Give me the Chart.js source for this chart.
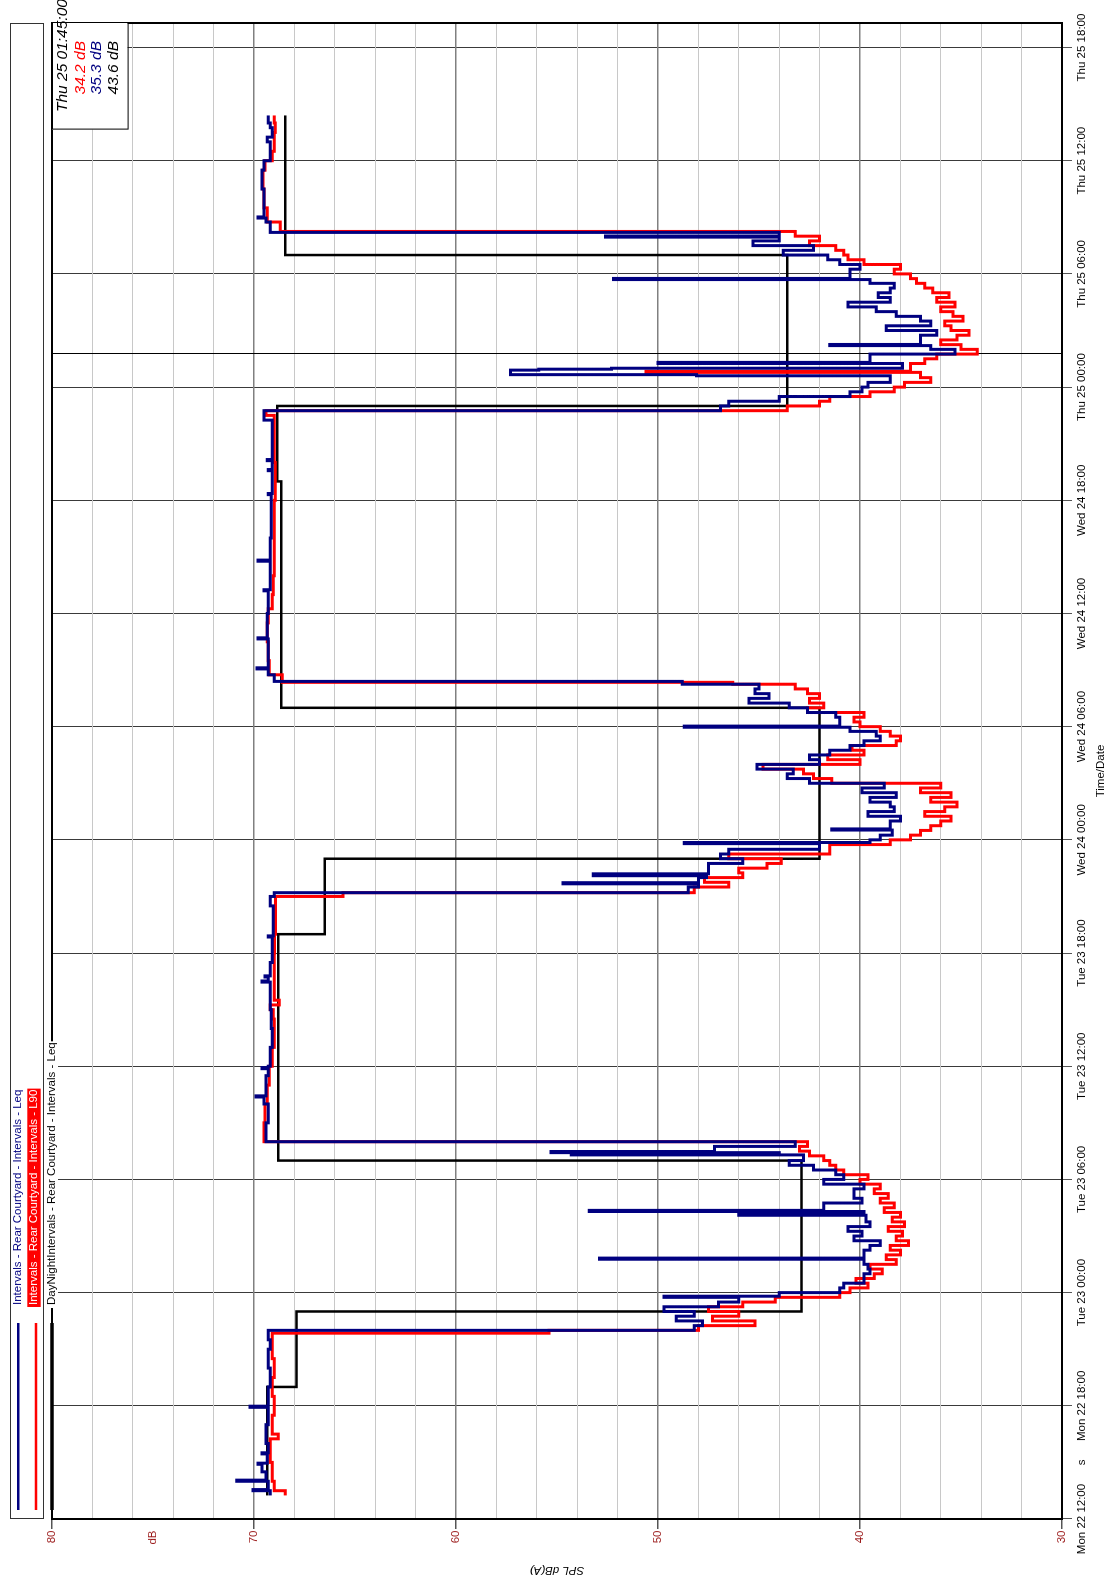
<!DOCTYPE html>
<html>
<head>
<meta charset="utf-8">
<title>Rear Courtyard - SPL</title>
<script src="https://cdn.jsdelivr.net/npm/chart.js@4.4.1/dist/chart.umd.min.js"></script>
<style>
  html, body { margin: 0; padding: 0; background: #fff; overflow: hidden; }
  /* the chart is drawn landscape and turned a quarter turn to the left */
  #wrap { position: absolute; left: 0; top: 0; width: 1576px; height: 1114px;
          transform-origin: 0 0; transform: translate(0px, 1576px) rotate(-90deg); }
  #myChart { display: block; }
</style>
</head>
<body>
<div id="wrap"><canvas id="myChart" width="1576" height="1114"></canvas></div>
<script>
  // hours counted from Mon 22 12:00
  const timeTickHours = [0, 6, 12, 18, 24, 30, 36, 42, 48, 54, 60, 66, 72, 78];
  const timeTickLabels = ['Mon 22 12:00', 'Mon 22 18:00', 'Tue 23 00:00', 'Tue 23 06:00', 'Tue 23 12:00',
    'Tue 23 18:00', 'Wed 24 00:00', 'Wed 24 06:00', 'Wed 24 12:00', 'Wed 24 18:00',
    'Thu 25 00:00', 'Thu 25 06:00', 'Thu 25 12:00', 'Thu 25 18:00'];
  const timeUnitHour = 3;
  const timeUnitLabel = 's';
  const dbLabelValues = [80, 70, 60, 50, 40, 30];
  const dbUnitValue = 75;
  const dbUnitLabel = 'dB';

  const cursorHour = 61.75;
  const cursorTitle = 'Thu 25 01:45:00';
  const cursorL90 = '34.2 dB';
  const cursorLeq = '35.3 dB';
  const cursorDayNight = '43.6 dB';

  const legendNames = [
    'Intervals - Rear Courtyard - Intervals - Leq',
    'Intervals - Rear Courtyard - Intervals - L90',
    'DayNightIntervals - Rear Courtyard - Intervals - Leq'
  ];

  // Leq (navy)
  const leqHours = [
    1.25, 1.5, 1.56, 2.0, 2.06, 2.5, 2.9, 2.96, 3.45, 3.51, 4.0, 5.0, 5.92, 5.98, 7.0, 8.0, 9.0, 9.5,
    10.0, 10.25, 10.5, 10.75, 11.0, 11.25, 11.5, 11.75, 11.81, 12.0, 12.25, 12.5, 12.75, 13.0, 13.25, 13.5,
    13.77, 13.83, 14.25, 14.5, 14.75, 15.0, 15.25, 15.5, 15.75, 16.1, 16.16, 16.3, 16.36, 16.75, 17.0, 17.25,
    17.5, 17.75, 18.0, 18.25, 18.5, 18.75, 19.0, 19.3, 19.36, 19.42, 19.48, 19.75,
    20.0, 21.0, 22.0, 22.37, 22.43, 23.5, 23.87, 23.93, 24.0, 25.0, 26.0, 27.0, 28.46, 28.52, 28.73, 28.79,
    29.5, 30.85, 30.91, 32.5, 33.0,
    33.2, 33.5, 33.67, 33.73, 34.0, 34.1, 34.2, 34.75, 35.0, 35.25, 35.5, 35.8, 35.86, 36.0, 36.25, 36.52,
    36.58, 37.0, 37.25, 37.5, 37.75, 38.0, 38.25, 38.5, 38.75, 39.0, 39.25, 39.5, 39.75, 40.0, 40.25, 40.5,
    40.75, 41.0, 41.25, 41.5, 41.75, 41.97, 42.03, 42.5, 42.75, 43.0, 43.25, 43.5, 43.75, 44.0, 44.25,
    44.4, 44.75, 45.06, 45.12, 46.65, 46.71, 48.0, 49.2, 49.26, 50.77, 50.83, 52.0, 54.3, 54.36, 55.57, 55.63,
    56.1, 56.16, 58.25,
    58.75, 59.0, 59.25, 59.5, 59.75, 60.0, 60.25, 60.6, 60.66, 60.9, 60.95, 61.0, 61.25, 61.31, 61.75, 62.0,
    62.2, 62.26, 62.75, 63.0, 63.25, 63.5, 63.75, 64.0, 64.25, 64.5, 64.75, 65.0, 65.25, 65.5, 65.7, 65.76,
    66.25, 66.5, 66.75, 67.0, 67.25, 67.5, 67.75, 67.95, 68.01,
    68.2, 68.75, 68.96, 69.02, 70.5, 71.5, 72.0, 73.0, 73.25, 73.75, 74.0, 74.4
  ];
  const leqDb = [
    69.2, 70.05, 69.3, 70.85, 69.4, 69.6, 69.8, 69.35, 69.6, 69.3, 69.4, 69.3, 70.2, 69.3, 69.2, 69.3, 69.2, 69.3,
    48.2, 47.8, 49.1, 48.2, 49.7, 47.0, 46.0, 49.7, 44.0, 41.0, 40.8, 39.8, 39.8, 39.5, 39.6, 39.8,
    52.9, 39.8, 39.5, 39.0, 40.3, 39.9, 40.6, 39.5, 39.7, 46.0, 39.8, 53.4, 41.8, 39.9, 40.3, 40.3,
    39.8, 41.8, 40.8, 41.2, 42.3, 43.5, 42.8, 54.3, 44.0, 55.3, 47.2, 43.2,
    69.4, 69.3, 69.5, 69.9, 69.4, 69.3, 69.6, 69.3, 69.2, 69.1, 69.15, 69.2, 69.6, 69.3, 69.45, 69.2,
    69.1, 69.3, 69.05, 69.2, 69.0,
    48.5, 48.0, 54.7, 48.0, 47.6, 53.2, 47.5, 45.8, 46.9, 46.5, 42.0, 48.7, 39.5, 39.0, 38.4, 41.4,
    38.5, 38.0, 39.6, 38.3, 38.5, 39.5, 38.2, 39.9, 38.8, 42.5, 43.6, 43.3, 45.1, 42.0, 42.5, 41.5,
    40.5, 39.8, 39.0, 39.2, 40.5, 48.7, 41.0, 41.2, 42.6, 43.5, 45.5, 44.5, 45.2, 45.0, 48.8,
    69.0, 69.3, 69.85, 69.3, 69.8, 69.35, 69.3, 69.5, 69.2, 69.8, 69.2, 69.15, 69.3, 69.1, 69.3, 69.1,
    69.35, 69.1, 69.5,
    46.9, 46.5, 44.0, 40.5, 39.9, 39.6, 38.5, 48.1, 57.3, 55.9, 52.3, 37.9, 50.0, 39.5, 35.3, 36.5,
    41.5, 37.0, 36.2, 38.7, 36.5, 37.0, 38.2, 39.2, 40.6, 38.5, 39.1, 38.5, 38.3, 39.5, 52.2, 40.5,
    40.0, 41.0, 41.6, 43.8, 42.3, 45.3, 44.0, 52.6, 44.0,
    69.2, 69.4, 69.8, 69.5, 69.6, 69.5, 69.2, 69.35, 69.1, 69.2, 69.3, 69.3
  ];

  // L90 (red)
  const l90Hours = [
    1.25, 1.5, 2.0, 3.0, 4.25, 4.5, 5.5, 6.5, 7.5, 8.5, 9.85,
    10.0, 10.25, 10.5, 10.75, 11.0, 11.25, 11.5, 11.75, 12.0, 12.25, 12.5, 12.75, 13.0, 13.25, 13.5, 13.75,
    14.0, 14.25, 14.5, 14.75, 15.0, 15.25, 15.5, 15.75, 16.0, 16.25, 16.5, 16.75, 17.0, 17.25, 17.5, 17.75,
    18.0, 18.25, 18.5, 18.75, 19.0, 19.25, 19.5, 19.75,
    20.0, 21.0, 22.0, 23.0, 24.0, 25.0, 26.5, 27.0, 27.25, 27.5, 30.0, 31.0, 33.0,
    33.2, 33.5, 33.75, 34.0, 34.25, 34.5, 34.75, 35.0, 35.25, 35.5, 35.75, 36.0, 36.25, 36.5, 36.75, 37.0,
    37.25, 37.5, 37.75, 38.0, 38.25, 38.5, 38.75, 39.0, 39.25, 39.5, 39.75, 40.0, 40.25, 40.5, 40.75, 41.0,
    41.25, 41.5, 41.75, 42.0, 42.25, 42.5, 42.75, 43.0, 43.25, 43.5, 43.75, 44.0, 44.25,
    44.35, 44.75, 45.5, 46.5, 47.5, 48.25, 49.0, 50.0, 54.0, 56.0, 58.5,
    58.75, 59.0, 59.25, 59.5, 59.75, 60.0, 60.25, 60.5, 60.78, 60.84, 61.25, 61.5, 61.75, 62.0, 62.25, 62.5,
    62.75, 63.0, 63.25, 63.5, 63.75, 64.0, 64.25, 64.5, 64.75, 65.0, 65.25, 65.5, 65.75, 66.0, 66.25, 66.5,
    66.75, 67.0, 67.25, 67.5, 67.75, 68.0,
    68.25, 68.75, 69.5, 70.5, 71.5, 72.0, 72.5, 73.5, 74.0, 74.4
  ];
  const l90Db = [
    68.45, 69.0, 69.1, 69.2, 68.8, 69.1, 69.0, 69.1, 69.0, 69.1, 55.4,
    48.0, 45.2, 47.3, 46.0, 47.5, 45.8, 44.2, 41.0, 40.5, 39.6, 40.2, 39.3, 38.9, 39.5, 38.2, 38.7,
    38.0, 38.5, 37.6, 38.2, 37.9, 38.6, 37.8, 38.4, 38.0, 38.8, 38.3, 39.0, 38.6, 39.3, 39.0, 40.0,
    39.6, 40.8, 41.2, 41.5, 41.8, 42.5, 43.0, 42.6,
    69.5, 69.45, 69.35, 69.25, 69.1, 69.0, 69.05, 69.2, 68.75, 69.0, 68.98, 68.94, 65.6,
    48.2, 46.5, 47.7, 45.8, 46.0, 44.6, 43.9, 46.5, 41.5, 41.5, 38.5, 37.5, 37.0, 36.5, 36.0, 35.5,
    36.8, 35.8, 35.2, 36.5, 35.5, 37.0, 36.0, 41.4, 42.3, 42.8, 44.8, 40.0, 41.6, 39.8, 40.4, 38.2,
    38.0, 38.5, 39.0, 40.0, 40.3, 39.8, 42.6, 41.8, 42.5, 42.0, 42.6, 43.2, 46.3,
    68.6, 69.25, 69.3, 69.35, 69.3, 69.1, 69.05, 69.0, 68.95, 69.0, 69.4,
    43.6, 42.0, 41.5, 39.5, 38.3, 37.8, 36.5, 37.0, 50.6, 37.5, 36.8, 36.2, 34.2, 35.0, 36.0, 35.2,
    34.6, 35.5, 35.8, 34.9, 35.4, 36.0, 35.3, 36.2, 35.6, 36.4, 36.8, 37.2, 37.5, 38.3, 38.0, 39.8,
    40.6, 40.8, 41.2, 42.5, 42.0, 43.2,
    68.7, 69.35, 69.5, 69.55, 69.45, 69.1, 69.0, 68.95, 69.0, 69.0
  ];

  // Day/Night Leq (black)
  const dayNightHours = [1.25, 7, 11, 19, 31, 35, 43, 55, 59, 67, 74.4];
  const dayNightDb = [69.35, 67.9, 42.9, 68.8, 66.5, 42.0, 68.65, 68.85, 43.6, 68.45, 68.45];

  function hasFont(name) {
    const c = document.createElement('canvas').getContext('2d');
    const probe = 'Intervals Rear Courtyard 0123456789';
    c.font = '20px monospace';
    const a = c.measureText(probe).width;
    c.font = '20px "' + name + '", monospace';
    return c.measureText(probe).width !== a;
  }
  const narrow = hasFont('Liberation Sans Narrow');
  const FONT = narrow ? '"Liberation Sans Narrow", "Liberation Sans", Arial, sans-serif' : '"Liberation Sans", Arial, sans-serif';
  const FS = narrow ? 14 : 11.5;

  const NAVY = '#000080';
  const RED = '#ff0000';
  const TICK_RED = '#9c1c1c';

  function points(hours, values) {
    return hours.map((h, i) => ({ x: h, y: values[i] }));
  }

  const overlay = {
    id: 'overlay',
    beforeDatasetsDraw(chart) {
      const { ctx, chartArea: a, scales: { x } } = chart;
      const cx = Math.round(x.getPixelForValue(cursorHour)) + 0.5;
      ctx.save();
      ctx.strokeStyle = '#000';
      ctx.lineWidth = 1;
      ctx.beginPath();
      ctx.moveTo(cx, a.top);
      ctx.lineTo(cx, a.bottom);
      ctx.stroke();
      ctx.restore();
    },
    afterDraw(chart) {
      const { ctx, chartArea: a } = chart;
      ctx.save();

      // plot frame
      ctx.strokeStyle = '#000';
      ctx.lineWidth = 2;
      ctx.strokeRect(a.left, a.top, a.right - a.left, a.bottom - a.top);

      // legend box above the plot
      ctx.lineWidth = 1;
      ctx.strokeStyle = '#333';
      ctx.strokeRect(a.left + 0.5, 10.5, a.right - a.left - 1, 33);

      const colors = [NAVY, RED, '#000'];
      const rows = [18.3, 34, 52];
      const widths = [2.5, 2.5, 3.5];
      ctx.font = FS + 'px ' + FONT;
      ctx.textBaseline = 'middle';
      ctx.textAlign = 'left';
      legendNames.forEach((name, i) => {
        const y = rows[i];
        ctx.strokeStyle = colors[i];
        ctx.lineWidth = widths[i];
        ctx.beginPath();
        ctx.moveTo(a.left + 9, i === 1 ? 36 : y);
        ctx.lineTo(a.left + 196, i === 1 ? 36 : y);
        ctx.stroke();
        const w = ctx.measureText(name).width;
        if (i === 1) {
          ctx.fillStyle = RED;
          ctx.fillRect(a.left + 212, 27.3, w + 3, 13.4);
          ctx.fillStyle = '#fff';
        } else if (i === 2) {
          ctx.fillStyle = '#fff';
          ctx.fillRect(a.left + 211, 45.5, w + 4, 12.5);
          ctx.fillStyle = '#000';
        } else {
          ctx.fillStyle = NAVY;
        }
        ctx.fillText(name, a.left + 214, y);
      });

      // cursor read-out box
      const bw = 106.6, bh = 75.6;
      ctx.fillStyle = '#fff';
      ctx.fillRect(a.right - bw, a.top, bw, bh);
      ctx.strokeStyle = '#000';
      ctx.lineWidth = 1;
      ctx.strokeRect(a.right - bw + 0.5, a.top + 0.5, bw, bh);
      ctx.font = 'italic 15.5px "Liberation Sans", Arial, sans-serif';
      ctx.textBaseline = 'alphabetic';
      ctx.textAlign = 'left';
      ctx.fillStyle = '#000';
      ctx.fillText(cursorTitle, a.right - 89, a.top + 15);
      ctx.textAlign = 'right';
      ctx.fillStyle = RED;
      ctx.fillText(cursorL90, a.right - 18, a.top + 33);
      ctx.fillStyle = NAVY;
      ctx.fillText(cursorLeq, a.right - 18, a.top + 48.5);
      ctx.fillStyle = '#000';
      ctx.fillText(cursorDayNight, a.right - 18, a.top + 65.5);

      // axis titles
      ctx.textAlign = 'center';
      ctx.textBaseline = 'middle';
      ctx.fillStyle = '#000';
      ctx.font = FS + 'px ' + FONT;
      ctx.fillText('Time/Date', (a.left + a.right) / 2, 1101);
      ctx.translate(6, (a.top + a.bottom) / 2);
      ctx.rotate(-Math.PI / 2);
      ctx.font = 'italic ' + FS + 'px ' + FONT;
      ctx.fillText('SPL dB(A)', 0, 0);
      ctx.restore();
    }
  };

  Chart.defaults.font.family = FONT;
  Chart.defaults.font.size = FS;

  const ctx = document.getElementById('myChart').getContext('2d');
  const myChart = new Chart(ctx, {
    type: 'line',
    data: {
      datasets: [
        { label: legendNames[0], data: points(leqHours, leqDb), borderColor: NAVY, borderWidth: 3, stepped: true, pointRadius: 0, fill: false },
        { label: legendNames[1], data: points(l90Hours, l90Db), borderColor: RED, borderWidth: 3, stepped: true, pointRadius: 0, fill: false },
        { label: legendNames[2], data: points(dayNightHours, dayNightDb), borderColor: '#000', borderWidth: 2.5, stepped: true, pointRadius: 0, fill: false }
      ]
    },
    options: {
      responsive: false,
      devicePixelRatio: 1,
      animation: false,
      layout: { padding: { top: 52, right: 23, left: 0, bottom: 0 } },
      plugins: { legend: { display: false }, tooltip: { enabled: false } },
      scales: {
        x: {
          type: 'linear',
          min: 0,
          max: 79.3,
          afterBuildTicks: axis => {
            axis.ticks = timeTickHours.concat([timeUnitHour]).sort((a, b) => a - b).map(v => ({ value: v }));
          },
          afterFit: axis => { axis.height = 52; },
          ticks: {
            autoSkip: false,
            maxRotation: 0,
            minRotation: 0,
            padding: 3,
            color: '#000',
            callback: v => v === timeUnitHour ? timeUnitLabel : timeTickLabels[timeTickHours.indexOf(v)]
          },
          grid: {
            color: c => (c.tick && c.tick.value === timeUnitHour) ? 'rgba(0,0,0,0)' : '#3a3a3a',
            tickColor: c => (c.tick && c.tick.value === timeUnitHour) ? 'rgba(0,0,0,0)' : '#555',
            lineWidth: 1,
            tickLength: 10
          },
          border: { display: false }
        },
        y: {
          type: 'linear',
          min: 30,
          max: 80,
          afterBuildTicks: axis => {
            const list = [];
            for (let v = 30; v <= 80; v += 2) list.push({ value: v });
            list.push({ value: dbUnitValue });
            axis.ticks = list.sort((a, b) => a.value - b.value);
          },
          afterFit: axis => { axis.width = 57; },
          ticks: {
            padding: 1.5,
            color: TICK_RED,
            callback: v => v === dbUnitValue ? dbUnitLabel : (dbLabelValues.includes(v) ? String(v) : '')
          },
          grid: {
            color: c => {
              const v = c.tick ? c.tick.value : 0;
              if (v === dbUnitValue) return 'rgba(0,0,0,0)';
              return v % 10 === 0 ? '#808080' : '#c8c8c8';
            },
            lineWidth: c => (c.tick && c.tick.value % 10 === 0) ? 1.5 : 1,
            tickColor: c => (c.tick && c.tick.value % 10 === 0) ? '#555' : 'rgba(0,0,0,0)',
            tickLength: 10
          },
          border: { display: false }
        }
      }
    },
    plugins: [overlay]
  });
</script>
</body>
</html>
